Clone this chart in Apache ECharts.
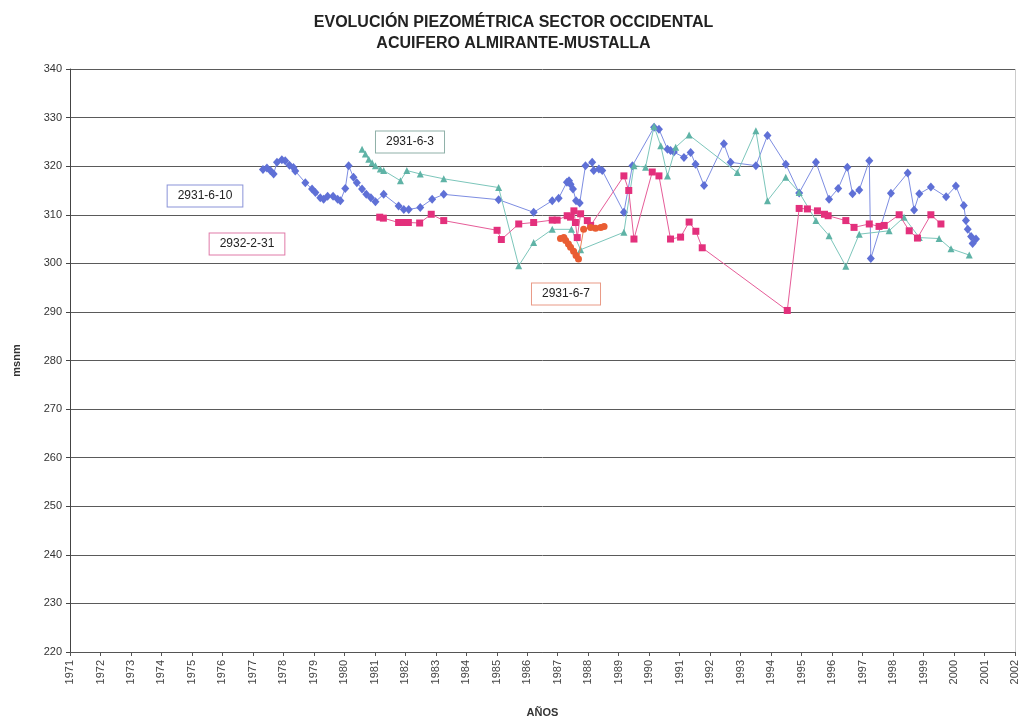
<!DOCTYPE html>
<html>
<head>
<meta charset="utf-8">
<title>Evolución piezométrica sector occidental</title>
<script src="https://cdn.jsdelivr.net/npm/echarts@6/dist/echarts.min.js"></script>
<style>
  html, body { margin: 0; padding: 0; background: #fff; }
  #chart { width: 1027px; height: 720px; }
</style>
</head>
<body>
<div id="chart"></div>
<script>
// Piezometric levels (m s.n.m.) per well: [decimal year, level]
const pozo_2931_6_10 = [
  [1977.33,319.3],[1977.46,319.6],[1977.57,319.1],[1977.68,318.4],[1977.79,320.8],[1977.95,321.3],
  [1978.06,321.1],[1978.20,320.2],[1978.33,319.7],[1978.39,319.0],[1978.72,316.6],[1978.94,315.3],
  [1979.05,314.6],[1979.21,313.5],[1979.32,313.2],[1979.45,313.8],[1979.63,313.8],[1979.78,313.2],
  [1979.87,312.9],[1980.03,315.4],[1980.14,320.1],[1980.30,317.7],[1980.41,316.6],[1980.58,315.3],
  [1980.72,314.2],[1980.87,313.5],[1981.02,312.7],[1981.29,314.2],[1981.78,311.8],[1981.95,311.1],
  [1982.11,311.1],[1982.49,311.5],[1982.88,313.2],[1983.26,314.2],[1985.06,313.1],[1986.21,310.5],
  [1986.82,312.9],[1987.03,313.4],[1987.30,316.7],[1987.37,317.0],[1987.42,316.3],[1987.50,315.3],
  [1987.60,312.9],[1987.72,312.4],[1987.91,320.1],[1988.13,320.8],[1988.18,319.1],[1988.35,319.4],
  [1988.46,319.1],[1989.17,310.5],[1989.45,320.1],[1990.16,328.0],[1990.32,327.6],[1990.60,323.5],
  [1990.70,323.2],[1990.81,322.9],[1991.14,321.8],[1991.36,322.8],[1991.52,320.4],[1991.80,316.0],
  [1992.45,324.6],[1992.67,320.8],[1993.50,320.1],[1993.88,326.3],[1994.48,320.4],[1994.92,314.5],
  [1995.47,320.8],[1995.90,313.2],[1996.20,315.4],[1996.50,319.8],[1996.67,314.3],[1996.89,315.1],
  [1997.22,321.1],[1997.27,301.0],[1997.93,314.4],[1998.48,318.6],[1998.69,311.0],[1998.86,314.3],
  [1999.24,315.7],[1999.74,313.7],[2000.06,315.9],[2000.32,311.9],[2000.39,308.8],[2000.45,307.0],
  [2000.56,305.5],[2000.61,304.1],[2000.72,305.0]
];

const pozo_2931_6_3 = [
  [1980.58,323.5],[1980.69,322.5],[1980.80,321.4],[1980.91,320.7],[1981.02,320.1],[1981.18,319.4],
  [1981.29,319.1],[1981.84,317.0],[1982.05,319.1],[1982.49,318.4],[1983.26,317.4],[1985.06,315.6],
  [1985.72,299.5],[1986.21,304.3],[1986.82,307.0],[1987.45,307.0],[1987.75,302.8],[1989.17,306.4],
  [1989.50,320.1],[1989.88,319.8],[1990.16,328.2],[1990.38,324.2],[1990.60,318.0],[1990.87,323.9],
  [1991.31,326.4],[1992.89,318.7],[1993.50,327.3],[1993.88,312.9],[1994.48,317.7],[1994.92,314.6],
  [1995.47,308.8],[1995.90,305.7],[1996.45,299.4],[1996.89,306.0],[1997.87,306.7],[1998.36,309.5],
  [1998.86,305.3],[1999.51,305.1],[1999.90,303.0],[2000.50,301.7]
];

const pozo_2932_2_31 = [
  [1981.16,309.5],[1981.28,309.3],[1981.78,308.4],[1981.95,308.4],[1982.10,308.4],[1982.47,308.3],
  [1982.85,310.1],[1983.26,308.8],[1985.01,306.8],[1985.15,304.9],[1985.72,308.1],[1986.21,308.4],
  [1986.82,308.9],[1986.98,308.9],[1987.31,309.8],[1987.42,309.5],[1987.53,310.8],[1987.58,308.4],
  [1987.64,305.3],[1987.75,310.2],[1987.97,308.8],[1988.08,307.8],[1989.17,318.0],[1989.33,315.0],
  [1989.50,305.0],[1990.10,318.8],[1990.32,318.0],[1990.70,305.0],[1991.03,305.4],[1991.31,308.5],
  [1991.53,306.6],[1991.74,303.2],[1994.53,290.3],[1994.92,311.3],[1995.19,311.2],[1995.52,310.8],
  [1995.75,310.1],[1995.87,309.8],[1996.45,308.8],[1996.72,307.4],[1997.22,308.1],[1997.54,307.6],
  [1997.71,307.8],[1998.20,310.0],[1998.53,306.7],[1998.80,305.2],[1999.24,310.0],[1999.57,308.1]
];

const pozo_2931_6_7 = [
  [1987.09,305.1],[1987.20,305.3],[1987.26,304.7],[1987.35,304.0],[1987.42,303.3],[1987.52,302.5],
  [1987.60,301.6],[1987.68,300.9],[1987.85,307.0],[1988.08,307.4],[1988.24,307.2],[1988.41,307.4],
  [1988.52,307.6]
];

// Axis ranges and labels
const yearMin = 1971, yearMax = 2002;
const levelMin = 220, levelMax = 340, levelStep = 10;
const titleLines = ['EVOLUCIÓN PIEZOMÉTRICA SECTOR OCCIDENTAL', 'ACUIFERO ALMIRANTE-MUSTALLA'];
const xName = 'AÑOS', yName = 'msnm';

const FONT = '"Liberation Sans", Arial, sans-serif';
const chart = echarts.init(document.getElementById('chart'), null, { renderer: 'canvas' });

function wellSeries(name, data, symbol, size, lineColor, markColor, z) {
  return {
    name, type: 'line', data, symbol, symbolSize: size, z,
    lineStyle: { color: lineColor, width: 1 },
    itemStyle: { color: markColor, borderWidth: 0 },
    emphasis: { disabled: true },
    animation: false
  };
}

// Boxed well names placed beside each trace
function tag(text, x, y, border) {
  return {
    type: 'text', x, y, z: 100,
    style: {
      text, fill: '#222', font: '12px ' + FONT,
      align: 'center', verticalAlign: 'middle',
      backgroundColor: '#fff', borderColor: border, borderWidth: 1,
      padding: [5, 10, 4, 10]
    }
  };
}

chart.setOption({
  backgroundColor: '#fff',
  animation: false,
  title: {
    text: titleLines.join('\n'),
    left: 'center', top: 7,
    textStyle: {
      fontFamily: FONT, fontSize: 16, fontWeight: 'bold', color: '#222', lineHeight: 21
    }
  },
  grid: { left: 70, right: 12, top: 69, bottom: 68, containLabel: false, outerBoundsMode: 'none' },
  xAxis: {
    type: 'value', min: yearMin, max: yearMax, interval: 1,
    name: xName, nameLocation: 'middle', nameGap: 55,
    nameTextStyle: { fontFamily: FONT, fontSize: 11, fontWeight: 'bold', color: '#333' },
    axisLine: { show: true, lineStyle: { color: '#555', width: 1 } },
    axisTick: { show: true, length: 4, lineStyle: { color: '#555' } },
    axisLabel: {
      rotate: 90, fontSize: 11, color: '#444', margin: 8,
      fontFamily: FONT,
      formatter: v => String(v)
    },
    splitLine: { show: false }
  },
  yAxis: {
    type: 'value', min: levelMin, max: levelMax, interval: levelStep,
    name: yName, nameLocation: 'middle', nameGap: 48,
    nameTextStyle: { fontFamily: FONT, fontSize: 11, fontWeight: 'bold', color: '#333' },
    axisLine: { show: true, lineStyle: { color: '#444', width: 1 } },
    axisTick: { show: true, length: 4, lineStyle: { color: '#444' } },
    axisLabel: { fontSize: 11, color: '#333', margin: 8, fontFamily: FONT },
    splitLine: { show: true, lineStyle: { color: '#5a5a5a', width: 1 } }
  },
  series: [
    wellSeries('2931-6-10', pozo_2931_6_10, 'diamond', [8, 9], '#7d8de2', '#5f70d6', 2),
    wellSeries('2931-6-3', pozo_2931_6_3, 'triangle', 7, '#7cc6bb', '#5fb3a6', 3),
    wellSeries('2932-2-31', pozo_2932_2_31, 'rect', 7, '#e65c98', '#e3307c', 4),
    wellSeries('2931-6-7', pozo_2931_6_7, 'circle', 7, '#ee8058', '#e95d33', 5)
  ],
  graphic: [
    tag('2931-6-10', 205, 196, '#8a93d8'),
    tag('2932-2-31', 247, 244, '#e07aa8'),
    tag('2931-6-3', 410, 142, '#8fb0a8'),
    tag('2931-6-7', 566, 294, '#e99a86'),
    { type: 'line', z: 1, shape: { x1: 1015.5, y1: 69, x2: 1015.5, y2: 652 }, style: { stroke: '#ccc', lineWidth: 1 } }
  ]
});
</script>
</body>
</html>
